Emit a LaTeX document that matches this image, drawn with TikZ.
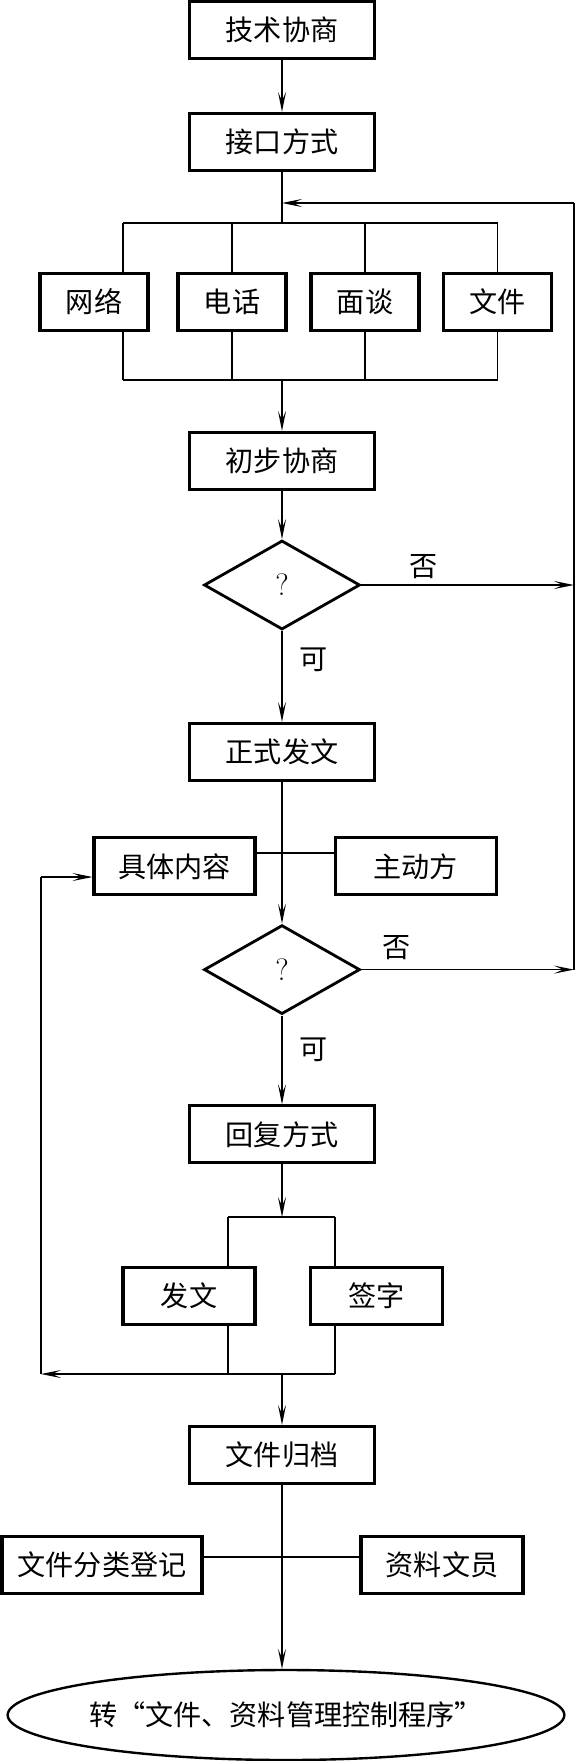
\documentclass[tikz,border=0pt]{standalone}
\usepackage{fontspec}
\newfontfamily\cjk{Noto Sans CJK SC}
\usetikzlibrary{arrows.meta,positioning,shapes.geometric,calc}
\newcommand\cjkfont{\cjk\fontsize{20}{24}\selectfont}
\tikzset{
  flowbox/.style={draw,line width=2.2pt,minimum width=4.625cm,minimum height=1.425cm,
                  inner sep=0pt,font=\cjkfont},
  wayb/.style={flowbox,minimum width=2.7cm},
  sidebox/.style={flowbox,minimum width=4.025cm},
  checkd/.style={diamond,draw,line width=2pt,minimum width=3.9cm,minimum height=2.225cm,
                 inner sep=0pt,font=\fontsize{22}{26}\selectfont},
  finbox/.style={ellipse,draw,line width=1.7pt,minimum width=11.575cm,minimum height=2.25cm,
                 inner sep=0pt,font=\cjkfont},
  lbl/.style={font=\cjkfont,inner sep=0pt},
  mainline/.style={line width=1.1pt},
  thinline/.style={line width=0.75pt},
  flowarr/.style={-{Stealth[length=5mm,width=2mm,inset=2.2mm]},line width=1.1pt},
  thinarr/.style={-{Stealth[length=5mm,width=2mm,inset=2.2mm]},line width=0.75pt}
}
\begin{document}
\begin{tikzpicture}[x=1cm,y=1cm]
  \useasboundingbox (0,0) rectangle (14.4,-44.025);
  % main column
  \node[flowbox] (tech) at (7.05,-0.75) {技术协商};
  \node[flowbox] (iface) at (7.05,-3.55) {接口方式};
  \node[wayb] (net) at (2.35,-7.55) {网络};
  \node[wayb] (phone) at (5.8,-7.55) {电话};
  \node[wayb] (talk) at (9.125,-7.55) {面谈};
  \node[wayb] (file) at (12.44,-7.55) {文件};
  \node[flowbox] (prelim) at (7.05,-11.525) {初步协商};
  \node[checkd] (chk1) at (7.05,-14.625) {?};
  \node[flowbox] (formal) at (7.05,-18.8) {正式发文};
  \node[sidebox] (content) at (4.3625,-21.66) {具体内容};
  \node[sidebox] (active) at (10.39,-21.66) {主动方};
  \node[checkd] (chk2) at (7.05,-24.24) {?};
  \node[flowbox] (reply) at (7.05,-28.36) {回复方式};
  \node[flowbox,minimum width=3.3cm] (send) at (4.725,-32.39) {发文};
  \node[flowbox,minimum width=3.3cm] (sign) at (9.41,-32.39) {签字};
  \node[flowbox] (archive) at (7.05,-36.375) {文件归档};
  \node[flowbox,minimum width=5.0cm] (classify) at (2.55,-39.125) {文件分类登记};
  \node[sidebox,minimum width=4.05cm] (clerk) at (11.05,-39.125) {资料文员};
  \node[finbox] (finish) at (7.15,-42.875) {转“文件、资料管理控制程序”};
  % labels
  \node[lbl] (no1) at (10.6,-14.175) {否};
  \node[lbl] (ok1) at (7.85,-16.5) {可};
  \node[lbl] (no2) at (9.925,-23.7) {否};
  \node[lbl] (ok2) at (7.85,-26.25) {可};
  % junction points
  \coordinate (brtop) at (7.05,-5.575);
  \coordinate (brbot) at (7.05,-9.5);
  \coordinate (fbR) at (14.35,-5.075);
  \coordinate (fbL) at (7.05,-5.075);
  \coordinate (jn) at (7.05,-21.325);
  \coordinate (rbC) at (7.05,-30.425);
  \coordinate (rbL) at (5.7,-30.425);
  \coordinate (rbR) at (8.375,-30.425);
  \coordinate (mgL) at (5.7,-34.35);
  \coordinate (mgR) at (8.375,-34.35);
  \coordinate (mgC) at (7.05,-34.35);
  \coordinate (lpB) at (1.025,-34.35);
  \coordinate (lpT) at (1.025,-21.925);
  \coordinate (jn2) at (7.05,-38.925);
  % connectors
  \draw[flowarr] (tech) -- (iface);
  \draw[mainline] (iface) -- (brtop);
  \foreach \x/\n in {3.075/net,5.8/phone,9.125/talk,12.4375/file}{
    \coordinate (up\n) at (\x,-5.575);
    \coordinate (dn\n) at (\x,-9.5);
    \draw[thinline] (up\n) -- (up\n |- \n.north);
    \draw[thinline] (\n.south -| dn\n) -- (dn\n);
  }
  \draw[thinline] (upnet) -- (upfile);
  \draw[thinline] (dnnet) -- (dnfile);
  \draw[flowarr] (brbot) -- (prelim);
  \draw[flowarr] (prelim) -- (chk1);
  \draw[flowarr] (chk1) -- (formal);
  \draw[flowarr] (chk1.east) -- (chk1.east -| fbR);
  \draw[flowarr] (chk2.east) -- (chk2.east -| fbR);
  \draw[mainline] (chk2.east -| fbR) -- (fbR);
  \draw[thinarr] (fbR) -- (fbL);
  \draw[flowarr] (formal) -- (chk2);
  \draw[mainline] (jn -| content.east) -- (jn -| active.west);
  \draw[flowarr] (chk2) -- (reply);
  \draw[flowarr] (reply) -- (rbC);
  \draw[thinline] (rbL) -- (rbR);
  \draw[thinline] (rbL) -- (rbL |- send.north);
  \draw[thinline] (rbR) -- (rbR |- sign.north);
  \draw[thinline] (send.south -| mgL) -- (mgL);
  \draw[thinline] (sign.south -| mgR) -- (mgR);
  \draw[thinarr] (mgR) -- (lpB);
  \draw[thinline] (lpB) -- (lpT);
  \draw[thinarr] (lpT) -- (lpT -| content.west);
  \draw[flowarr] (mgC) -- (archive);
  \draw[mainline] (jn2 -| classify.east) -- (jn2 -| clerk.west);
  \draw[flowarr] (archive) -- (finish.north -| archive);
\end{tikzpicture}
\end{document}
